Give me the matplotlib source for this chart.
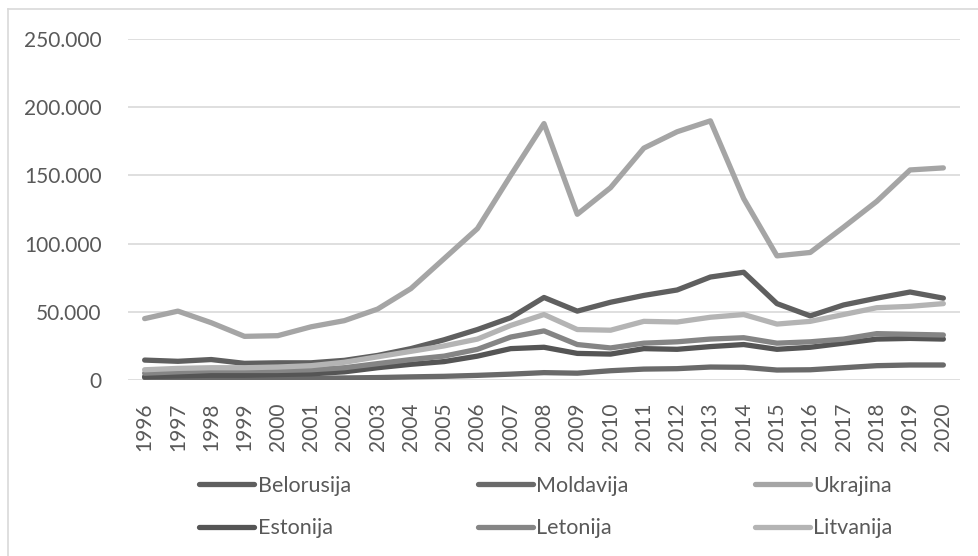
import matplotlib
matplotlib.use("Agg")
import matplotlib.pyplot as plt
from matplotlib.ticker import FuncFormatter, FixedLocator

plt.rcParams['font.family'] = ['Lato', 'DejaVu Sans']

years = list(range(1996, 2021))
series_names = ["Belorusija", "Moldavija", "Ukrajina", "Estonija", "Letonija", "Litvanija"]

belorusija = [14600, 13700, 15000, 12200, 12600, 12600, 14400, 18000, 23000, 29500, 37000, 45700,
              60500, 50500, 57000, 62000, 66000, 75500, 79000, 56000, 47000, 55000, 60000, 64500, 60000]
moldavija = [1800, 1500, 1400, 1000, 1000, 1200, 1500, 1800, 2300, 2700, 3400, 4300,
             5400, 5000, 6800, 8000, 8300, 9500, 9300, 7300, 7500, 9000, 10500, 11000, 11000]
ukrajina = [45000, 50500, 42000, 32000, 32500, 39000, 43500, 52000, 67000, 89000, 111000, 150000,
            188000, 121500, 141000, 170000, 182000, 190000, 133000, 91000, 93500, 112000, 131000, 154000, 155500]
estonija = [2500, 3000, 3500, 3500, 4000, 4500, 6000, 9000, 11500, 13500, 17500, 23000,
            24000, 19500, 19000, 23000, 22500, 24500, 26000, 22500, 24000, 27000, 30000, 30500, 30000]
letonija = [5000, 6000, 7000, 7000, 7000, 7500, 9000, 12000, 15000, 17500, 22500, 31500,
            36000, 26000, 23500, 27000, 28000, 30000, 31000, 27000, 28000, 30000, 34000, 33500, 33000]
litvanija = [7500, 8500, 9000, 9000, 9500, 10500, 13000, 17000, 21000, 25000, 30000, 40000,
             48000, 37000, 36500, 43000, 42500, 46000, 48000, 41000, 43000, 48000, 53000, 54000, 56000]

values = [belorusija, moldavija, ukrajina, estonija, letonija, litvanija]
colors = ["#5f5f5f", "#6a6a6a", "#a5a5a5", "#555555", "#858585", "#b4b4b4"]
yticks = [0, 50000, 100000, 150000, 200000, 250000]

W, H = 979, 556
fig = plt.figure(figsize=(W / 100, H / 100), dpi=100)
fig.patch.set_facecolor("white")

# outer chart border (only top and left visible)
fig.add_artist(plt.Line2D([8 / W, 8 / W], [0, 1 - 8.5 / H], transform=fig.transFigure,
                          color="#d9d9d9", lw=1.2))
fig.add_artist(plt.Line2D([8 / W, 1], [1 - 8.5 / H, 1 - 8.5 / H], transform=fig.transFigure,
                          color="#d9d9d9", lw=1.2))

left, right, top, bottom = 128, 960, 39, 380
ax = fig.add_axes([left / W, 1 - bottom / H, (right - left) / W, (bottom - top) / H])

handles = {}
for name, vals, c in zip(series_names, values, colors):
    ln, = ax.plot(years, vals, color=c, lw=3.8, solid_capstyle="round", solid_joinstyle="round",
                  label=name, zorder=3)
    handles[name] = ln

ax.set_xlim(1995.5, 2020.5)
ax.set_ylim(0, 250000)
ax.yaxis.set_major_locator(FixedLocator(yticks))
ax.yaxis.set_major_formatter(FuncFormatter(lambda v, p: "0" if v == 0 else f"{int(v):,}".replace(",", ".")))
ax.set_xticks(years)
ax.set_xticklabels([str(y) for y in years], rotation=90)
ax.grid(axis="y", color="#d9d9d9", lw=1.2, zorder=0)
ax.set_axisbelow(True)
for s in ax.spines.values():
    s.set_visible(False)
ax.tick_params(axis="both", length=0, labelsize=15, labelcolor="#595959")
ax.tick_params(axis="y", pad=19)
ax.tick_params(axis="x", pad=16)

order = ["Belorusija", "Estonija", "Moldavija", "Letonija", "Ukrajina", "Litvanija"]
leg = fig.legend([handles[n] for n in order], order, ncol=3, loc="center",
                 bbox_to_anchor=(546 / W, 1 - 507 / H), frameon=False,
                 fontsize=15.5, handlelength=2.55, handletextpad=0.15, columnspacing=5.9,
                 labelspacing=1.05, labelcolor="#595959")

fig.savefig("out.png", dpi=100, facecolor="white")
